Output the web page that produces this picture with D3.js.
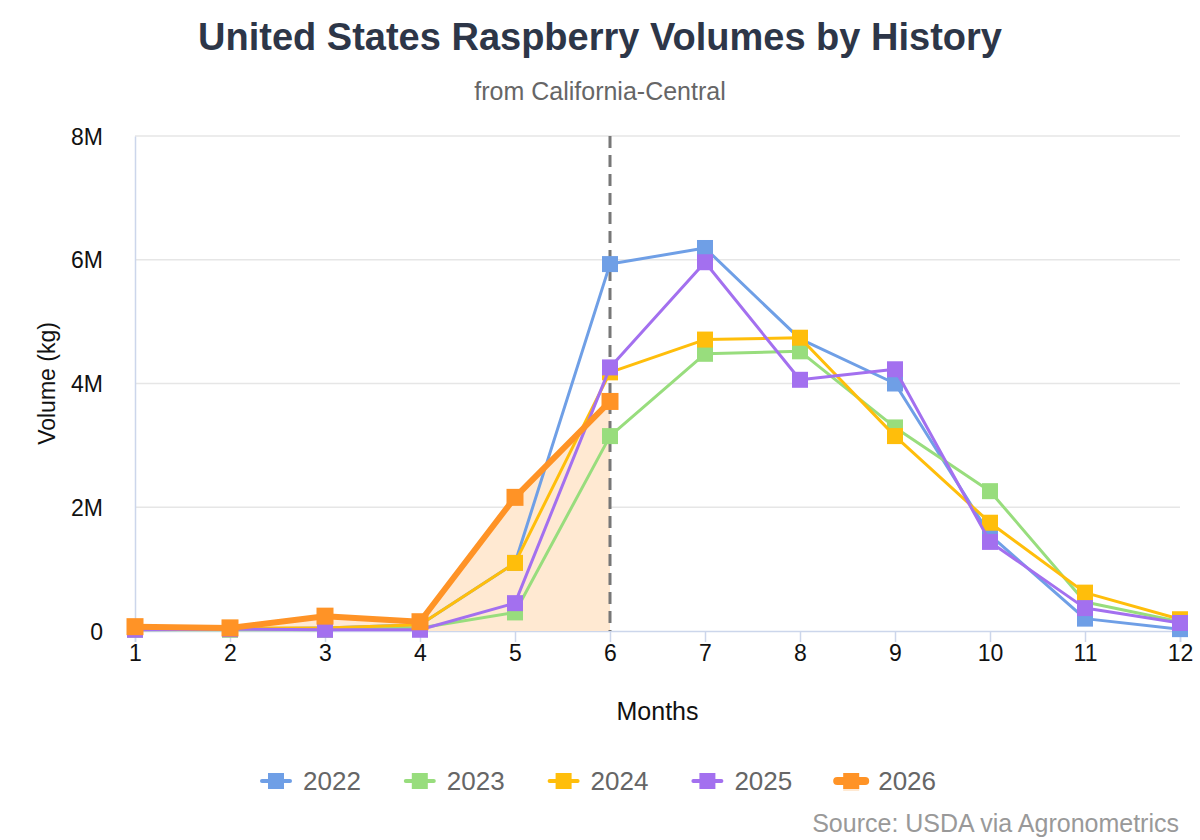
<!DOCTYPE html>
<html>
<head>
<meta charset="utf-8">
<script src="https://cdn.jsdelivr.net/npm/d3@7"></script>
<style>
    body { margin: 0; background: #fff; }
    svg { font-family: "Liberation Sans", Arial, Helvetica, sans-serif; }
</style>
</head>
<body>
<div id="chart"></div>
<script>
const months = [1, 2, 3, 4, 5, 6, 7, 8, 9, 10, 11, 12];
const yTicks = [0, 2e6, 4e6, 6e6, 8e6];
const years = ['2022', '2023', '2024', '2025', '2026'];
const colors = ['#6f9fe6', '#98dd7d', '#ffbe0b', '#a370ef', '#ff9326'];

const v2022 = [0.04e6, 0.03e6, 0.05e6, 0.1e6, 1.1e6, 5.93e6, 6.19e6, 4.72e6, 4.0e6, 1.55e6, 0.2e6, 0.03e6];
const v2023 = [0.02e6, 0.02e6, 0.02e6, 0.05e6, 0.3e6, 3.15e6, 4.48e6, 4.52e6, 3.29e6, 2.26e6, 0.47e6, 0.15e6];
const v2024 = [0.05e6, 0.05e6, 0.05e6, 0.1e6, 1.1e6, 4.18e6, 4.71e6, 4.74e6, 3.15e6, 1.75e6, 0.62e6, 0.19e6];
const v2025 = [0.02e6, 0.03e6, 0.02e6, 0.02e6, 0.45e6, 4.26e6, 5.96e6, 4.06e6, 4.23e6, 1.44e6, 0.37e6, 0.13e6];
const v2026 = [0.07e6, 0.05e6, 0.24e6, 0.15e6, 2.16e6, 3.71e6];

const seriesValues = [v2022, v2023, v2024, v2025, v2026];
const currentMonth = 6;

const width = 1200;
const height = 840;
const margin = { top: 136, right: 20, bottom: 209, left: 135 };

const svg = d3.select('#chart')
    .append('svg')
    .attr('width', width)
    .attr('height', height);

const x = d3.scaleLinear()
    .domain([1, 12])
    .range([margin.left, width - margin.right]);

const y = d3.scaleLinear()
    .domain([0, 8e6])
    .range([height - margin.bottom, margin.top]);

// grid
svg.append('g')
    .selectAll('line')
    .data(yTicks.filter((d) => d > 0))
    .join('line')
    .attr('x1', margin.left)
    .attr('x2', width - margin.right)
    .attr('y1', (d) => y(d))
    .attr('y2', (d) => y(d))
    .attr('stroke', '#e6e6e6')
    .attr('stroke-width', 1.5);

// y axis
const yAxis = svg.append('g')
    .attr('transform', `translate(${margin.left},0)`)
    .call(d3.axisLeft(y).tickValues(yTicks).tickSize(0).tickPadding(32)
        .tickFormat((d) => d === 0 ? '0' : (d / 1e6) + 'M'));
yAxis.select('.domain').attr('stroke', '#ccd6eb').attr('stroke-width', 1.5);
yAxis.selectAll('text').attr('font-size', 23).attr('fill', '#111').attr('dy', '0.35em');

// x axis
const xAxis = svg.append('g')
    .attr('transform', `translate(0,${y(0)})`)
    .call(d3.axisBottom(x).tickValues(months).tickSize(11).tickPadding(3).tickFormat(d3.format('d')));
xAxis.select('.domain').attr('stroke', '#ccd6eb').attr('stroke-width', 1.5);
xAxis.selectAll('.tick line').attr('stroke', '#ccd6eb').attr('stroke-width', 1.5);
xAxis.selectAll('text').attr('font-size', 23).attr('fill', '#111');

// area under current year
const cur = v2026.map((v, i) => ({ m: months[i], v }));
svg.append('path')
    .datum(cur)
    .attr('d', d3.area().x((d) => x(d.m)).y0(y(0)).y1((d) => y(d.v)))
    .attr('fill', '#ffe9d2');

// current month marker
svg.append('line')
    .attr('x1', x(currentMonth))
    .attr('x2', x(currentMonth))
    .attr('y1', y(8e6))
    .attr('y2', y(0))
    .attr('stroke', '#777')
    .attr('stroke-width', 3)
    .attr('stroke-dasharray', '12,7');

// series
const line = d3.line().x((d) => x(d.m)).y((d) => y(d.v));

seriesValues.forEach((values, i) => {
    const pts = values.map((v, j) => ({ m: months[j], v }));
    const isCurrent = i === years.length - 1;
    const g = svg.append('g');
    g.append('path')
        .datum(pts)
        .attr('d', line)
        .attr('fill', 'none')
        .attr('stroke', colors[i])
        .attr('stroke-width', isCurrent ? 6 : 3)
        .attr('stroke-linejoin', 'round');
    const s = isCurrent ? 17 : 16;
    g.selectAll('rect')
        .data(pts)
        .join('rect')
        .attr('x', (d) => x(d.m) - s / 2)
        .attr('y', (d) => y(d.v) - s / 2)
        .attr('width', s)
        .attr('height', s)
        .attr('fill', colors[i]);
});

// titles
svg.append('text')
    .attr('x', width / 2)
    .attr('y', 50)
    .attr('text-anchor', 'middle')
    .attr('font-size', 38)
    .attr('font-weight', 'bold')
    .attr('fill', '#2d3648')
    .text('United States Raspberry Volumes by History');

svg.append('text')
    .attr('x', width / 2)
    .attr('y', 100)
    .attr('text-anchor', 'middle')
    .attr('font-size', 25)
    .attr('fill', '#666')
    .text('from California-Central');

svg.append('text')
    .attr('transform', `translate(55,${(y(0) + y(8e6)) / 2}) rotate(-90)`)
    .attr('text-anchor', 'middle')
    .attr('font-size', 23)
    .attr('fill', '#111')
    .text('Volume (kg)');

svg.append('text')
    .attr('x', (x(1) + x(12)) / 2)
    .attr('y', 720)
    .attr('text-anchor', 'middle')
    .attr('font-size', 25)
    .attr('fill', '#111')
    .text('Months');

// legend
const legend = svg.append('g').attr('transform', 'translate(261,781)');
years.forEach((yr, i) => {
    const item = legend.append('g').attr('transform', `translate(${i * 143.8},0)`);
    const isCurrent = i === years.length - 1;
    if (isCurrent) {
        item.append('rect').attr('x', 7).attr('y', 0).attr('width', 16).attr('height', 10).attr('fill', '#ffe9d2');
    }
    item.append('line')
        .attr('x1', 1).attr('x2', 29)
        .attr('y1', 0).attr('y2', 0)
        .attr('stroke', colors[i])
        .attr('stroke-width', isCurrent ? 8 : 4)
        .attr('stroke-linecap', 'round');
    item.append('rect')
        .attr('x', 7).attr('y', -8)
        .attr('width', 16).attr('height', 16)
        .attr('fill', colors[i]);
    item.append('text')
        .attr('x', 42)
        .attr('y', 0)
        .attr('dy', '0.35em')
        .attr('font-size', 26)
        .attr('fill', '#666')
        .text(yr);
});

svg.append('text')
    .attr('x', 1179)
    .attr('y', 832)
    .attr('text-anchor', 'end')
    .attr('font-size', 25)
    .attr('fill', '#999')
    .text('Source: USDA via Agronometrics');
</script>
</body>
</html>
